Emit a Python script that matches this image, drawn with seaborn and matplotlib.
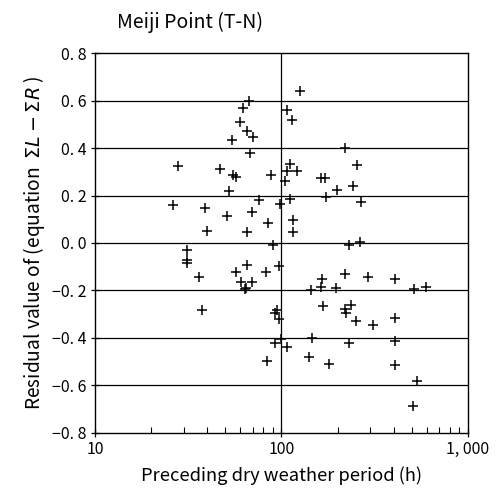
import matplotlib
matplotlib.use("Agg")
import matplotlib.pyplot as plt
import numpy as np
import pandas as pd
import seaborn as sns
from matplotlib.ticker import FixedLocator, LogLocator, NullFormatter

# preceding dry period (h) and residual
dry_hours = [
    125.7, 66.7, 61.9, 106.6, 114.3, 59.9, 65.6, 70.6, 54.3, 67.8,
    27.9, 46.8, 55.2, 57.0, 87.5, 111.1, 106.6, 121.6, 104.0, 52.1,
    26.1, 39.0, 76.0, 98.2, 111.1, 51.2, 69.5, 84.7, 40.0, 65.1,
    115.7, 115.7, 89.7, 31.0, 31.0, 31.0, 65.6,
    219.9, 253.0, 163.5, 170.4, 240.9, 199.1, 173.2, 267.9, 231.0, 263.5,
    36.0, 57.0, 82.6, 97.3, 60.4, 69.5, 63.5, 64.5, 37.5, 92.6, 94.9,
    97.3, 99.8, 92.6, 107.4, 83.3,
    164.9, 162.2, 143.5, 219.9, 291.0, 407.7, 196.0, 513.0, 595.6,
    167.6, 218.3, 221.9, 235.0, 250.8, 308.4, 407.7,
    145.8, 229.3, 407.7, 141.0, 180.4, 404.6, 531.0, 509.0,
]
residual = [
    0.639, 0.599, 0.567, 0.560, 0.518, 0.509, 0.473, 0.445, 0.434, 0.378,
    0.326, 0.310, 0.285, 0.279, 0.285, 0.331, 0.305, 0.305, 0.260, 0.218,
    0.161, 0.149, 0.180, 0.163, 0.185, 0.114, 0.132, 0.085, 0.050, 0.046,
    0.097, 0.048, -0.010, -0.030, -0.072, -0.085, -0.091,
    0.399, 0.328, 0.275, 0.275, 0.241, 0.223, 0.195, 0.171, -0.008, 0.003,
    -0.145, -0.122, -0.122, -0.097, -0.164, -0.164, -0.195, -0.190, -0.282, -0.293, -0.282,
    -0.321, -0.403, -0.420, -0.439, -0.498,
    -0.153, -0.187, -0.200, -0.131, -0.145, -0.153, -0.189, -0.192, -0.184,
    -0.265, -0.279, -0.293, -0.262, -0.327, -0.347, -0.316,
    -0.400, -0.422, -0.411, -0.481, -0.509, -0.512, -0.582, -0.686,
]
y_ticks = [-0.8, -0.6, -0.4, -0.2, 0.0, 0.2, 0.4, 0.6, 0.8]
y_tick_labels = ["−0. 8", "−0. 6", "−0. 4", "−0. 2", "0. 0", "0. 2", "0. 4", "0. 6", "0. 8"]
x_ticks = [10, 100, 1000]
x_tick_labels = ["10", "100", "1, 000"]

sns.set_theme(style="white")
plt.rcParams["font.family"] = ["Noto Sans CJK JP", "DejaVu Sans"]
plt.rcParams["mathtext.fontset"] = "custom"
plt.rcParams["mathtext.it"] = "DejaVu Sans:italic"

df = pd.DataFrame({"hours": dry_hours, "residual": residual})

fig = plt.figure(figsize=(4.96, 4.94), dpi=100)
ax = fig.add_axes([0.1915, 0.1235, 0.752, 0.7692])
sns.scatterplot(data=df, x="hours", y="residual", marker="+", color="black",
                s=55, linewidth=1.1, ax=ax, legend=False)
ax.set_xscale("log")
ax.set_xlim(10, 1000)
ax.set_ylim(-0.8, 0.8)

ax.xaxis.set_major_locator(FixedLocator(x_ticks))
ax.set_xticklabels(x_tick_labels)
ax.xaxis.set_minor_locator(LogLocator(base=10, subs=np.arange(2, 10)))
ax.xaxis.set_minor_formatter(NullFormatter())
ax.set_yticks(y_ticks)
ax.set_yticklabels(y_tick_labels)

ax.tick_params(axis="both", which="major", direction="inout", length=6, width=0.9,
               color="black", labelsize=11.5, labelcolor="black", pad=3)
ax.tick_params(axis="x", which="minor", direction="in", length=4, width=0.8,
               color="black", bottom=True)
ax.tick_params(axis="x", which="major", bottom=True)
ax.tick_params(axis="y", which="major", left=True)

for y in y_ticks[1:-1]:
    ax.axhline(y, color="black", lw=0.9, zorder=0)
ax.axvline(100, color="black", lw=0.9, zorder=0)
for s in ax.spines.values():
    s.set_color("black")
    s.set_linewidth(1.0)

ax.set_xlabel("Preceding dry weather period (h)", fontsize=13.2, color="black", labelpad=6)
ax.set_ylabel(r"Residual value of (equation  $\mathit{\Sigma L} - \mathit{\Sigma R}$ )",
              fontsize=13.8, color="black", labelpad=4)
fig.text(0.236, 0.955, "Meiji Point (T-N)", fontsize=14, color="black",
         ha="left", va="center")

fig.savefig("out.png", dpi=100)
